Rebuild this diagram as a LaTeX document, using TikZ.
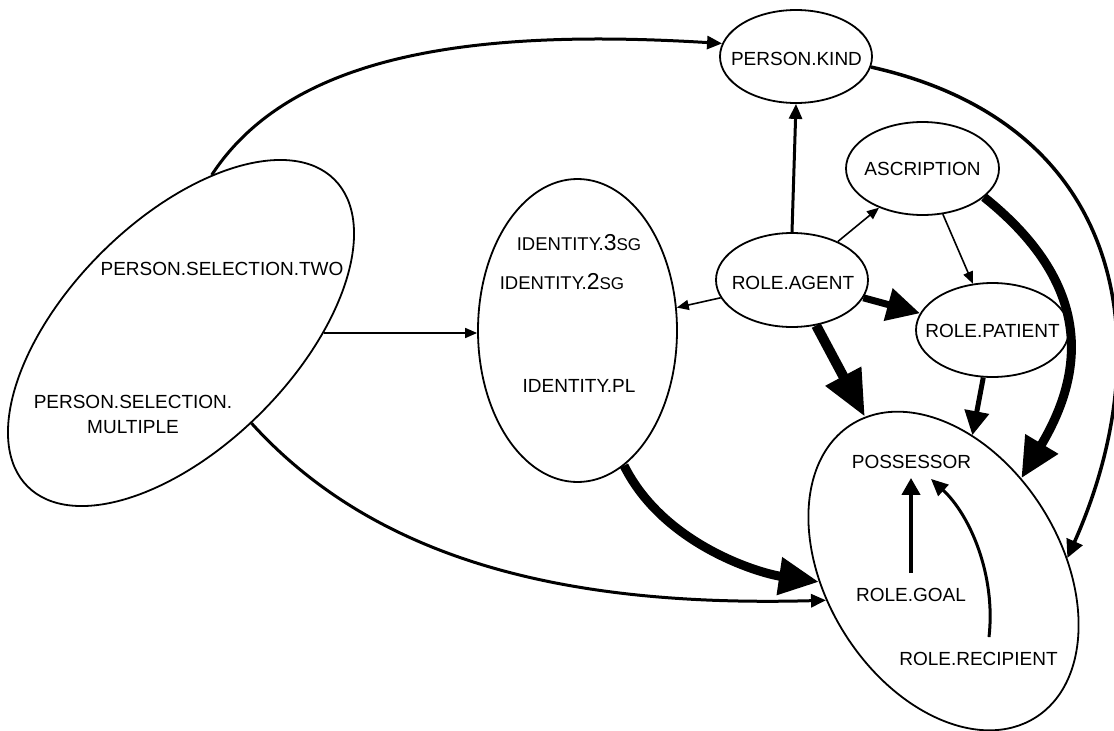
\documentclass[tikz,border=0pt]{standalone}
\usepackage{fontspec}
\setmainfont{Liberation Sans}
\usetikzlibrary{arrows.meta,shapes.geometric,calc}
\begin{document}
\begin{tikzpicture}[x=1pt,y=-1pt,
  lbl/.style={font=\fontsize{19}{25}\selectfont,inner sep=0pt,align=center},
  ell/.style={draw,ellipse,line width=1.8pt,inner sep=0pt},
  athin/.style={line width=1.6pt,-{Triangle[length=12pt,width=10pt]}},
  amed/.style={line width=3pt,-{Triangle[length=15pt,width=13pt]}},
  afive/.style={line width=5pt,-{Triangle[length=24pt,width=24pt]}},
  aseven/.style={line width=7pt,-{Triangle[length=33pt,width=32pt]}},
  anine/.style={line width=9pt,-{Triangle[length=40pt,width=36pt]}},
  aten/.style={line width=10pt,-{Triangle[length=46pt,width=38pt]}}
]
\fill[white] (0,0) rectangle (1114,731);
\useasboundingbox (0,0) rectangle (1114,731);

% ellipses
\node[ell,minimum width=152pt,minimum height=93pt] (pk) at (796,56.5) {};
\node[ell,minimum width=153pt,minimum height=93pt] (ascr) at (922.5,168.5) {};
\node[ell,minimum width=152pt,minimum height=94pt] (agent) at (792,280) {};
\node[ell,minimum width=153pt,minimum height=94pt] (patient) at (992.5,330) {};
\node[ell,minimum width=199pt,minimum height=303pt] (id) at (577.5,330.5) {};
\node[ell,minimum width=434pt,minimum height=226pt,rotate=45] (sel) at (181,333) {};
\node[ell,minimum width=346pt,minimum height=234pt,rotate=-58] (pos) at (943.5,571) {};

% texts
\node[lbl] (pkt) at (796.5,58.5) {PERSON.KIND};
\node[lbl] (ascrt) at (922.5,169) {ASCRIPTION};
\node[lbl] (agentt) at (793,282.5) {ROLE.AGENT};
\node[lbl] (patientt) at (992.5,331) {ROLE.PATIENT};
\node[lbl] (seltwo) at (222,269) {PERSON.SELECTION.TWO};
\node[lbl] (selmult) at (133,414.5) {PERSON.SELECTION.\\MULTIPLE};
\node[lbl] (idthree) at (579,243) {\fontsize{18.5}{22}\selectfont IDENTITY.{\fontsize{23}{25}\selectfont 3}{\fontsize{17}{20}\selectfont SG}};
\node[lbl] (idtwo) at (562,282) {\fontsize{18.5}{22}\selectfont IDENTITY.{\fontsize{23}{25}\selectfont 2}{\fontsize{17}{20}\selectfont SG}};
\node[lbl] (idpl) at (579,386) {IDENTITY.PL};
\node[lbl] (poss) at (911.5,462) {POSSESSOR};
\node[lbl] (goal) at (911,595) {ROLE.GOAL};
\node[lbl] (recip) at (978.5,659) {ROLE.RECIPIENT};

% connectors
\draw[amed] (sel.34) .. controls (290,55) and (470,28) .. (pk.170);
\draw[athin] (sel.-45) -- (sel.-45 -| id.west);
\draw[amed] (sel.263) .. controls (380,565) and (576,607) .. (pos.252);
\draw[anine] (id.-71) .. controls (663,544) and (758,573) .. (pos.243);
\draw[athin] (agent.194) -- (id.13);
\draw[amed] (agent.north) -- (pk.south);
\draw[athin] (agent.40) -- (ascr.222);
\draw[aseven] (agent.-14) -- (patient.167);
\draw[aten] (agent.-62) -- (pos.175);
\draw[athin] (ascr.-66) -- (patient.113);
\draw[afive] (patient.259) -- (pos.136);
\draw[anine] (ascr.-25) .. controls (1100,290) and (1080,380) .. (pos.108);
\draw[line width=3.5pt,-{Triangle[length=18pt,width=17pt]}] (pk.-8) .. controls (1130,125) and (1160,350) .. (pos.64);
\draw[line width=4pt,-{Triangle[length=17pt,width=18pt]}] ([yshift=15pt]goal.north) -- ([yshift=-9pt]goal.north |- poss.south);
\draw[line width=3pt,-{Triangle[length=17pt,width=15pt]}] ([xshift=10.5pt,yshift=15pt]recip.north) .. controls (996,575) and (970,515) .. ([xshift=19.5pt,yshift=-10pt]poss.south);
\end{tikzpicture}
\end{document}
